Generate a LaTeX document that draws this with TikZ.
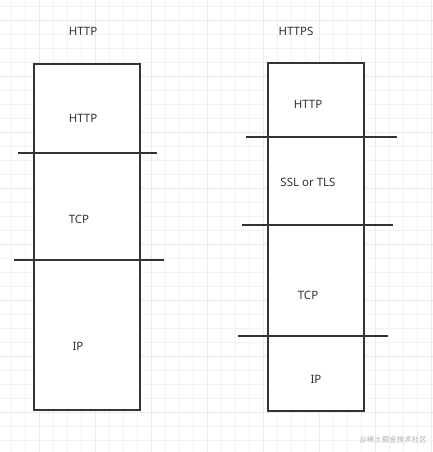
\documentclass[tikz,border=0pt]{standalone}
\usepackage{fontspec}
\setmainfont{Noto Sans}
\newfontfamily\cjk{Noto Sans CJK SC}
\usepackage{tikz}
\usetikzlibrary{positioning}

\begin{document}
\begin{tikzpicture}[x=1pt, y=-1pt,
  layerbox/.style={draw=black!80, line width=1.3pt, fill=white},
  divider/.style={draw=black!80, line width=1.3pt},
  lbl/.style={font=\fontsize{11.5}{13}\selectfont, text=black!80, inner sep=0pt},
  minorgrid/.style={draw=black!5, line width=0.8pt},
  majorgrid/.style={draw=black!8, line width=0.8pt}
]
  \useasboundingbox (0,0) rectangle (433,452);
  \fill[white] (0,0) rectangle (433,452);

  % background grid
  \foreach \gx in {11,25,...,433} \draw[minorgrid] (\gx,0) -- (\gx,452);
  \foreach \gy in {6,20,...,452} \draw[minorgrid] (0,\gy) -- (433,\gy);
  \foreach \gx in {39,95,...,433} \draw[majorgrid] (\gx,0) -- (\gx,452);
  \foreach \gy in {20,76,...,452} \draw[majorgrid] (0,\gy) -- (433,\gy);

  % HTTP stack
  \node[lbl] (httptitle) at (83,31) {HTTP};
  \draw[layerbox] (34,64) rectangle (140,410);
  \coordinate (l1a) at (18,153);  \coordinate (l1b) at (157,153);
  \coordinate (l2a) at (14,260);  \coordinate (l2b) at (164,260);
  \draw[divider] (l1a) -- (l1b);
  \draw[divider] (l2a) -- (l2b);
  \node[lbl] (lhttp) at (83,118) {HTTP};
  \node[lbl] (ltcp) at (79,219) {TCP};
  \node[lbl] (lip) at (78,346) {IP};

  % HTTPS stack
  \node[lbl] (httpstitle) at (296,31) {HTTPS};
  \draw[layerbox] (268,63) rectangle (364,411);
  \coordinate (r1a) at (246,137); \coordinate (r1b) at (397,137);
  \coordinate (r2a) at (242,225); \coordinate (r2b) at (393,225);
  \coordinate (r3a) at (238,336); \coordinate (r3b) at (388,336);
  \draw[divider] (r1a) -- (r1b);
  \draw[divider] (r2a) -- (r2b);
  \draw[divider] (r3a) -- (r3b);
  \node[lbl] (rhttp) at (308,104) {HTTP};
  \node[lbl] (rssl) at (308,182) {SSL or TLS};
  \node[lbl] (rtcp) at (308,295) {TCP};
  \node[lbl] (rip) at (316,379) {IP};

  % watermark
  \node[font=\cjk\fontsize{7.5}{9}\selectfont, text=black!30, anchor=east, inner sep=0pt] (mark) at (427,440) {@稀土掘金技术社区};
\end{tikzpicture}
\end{document}
